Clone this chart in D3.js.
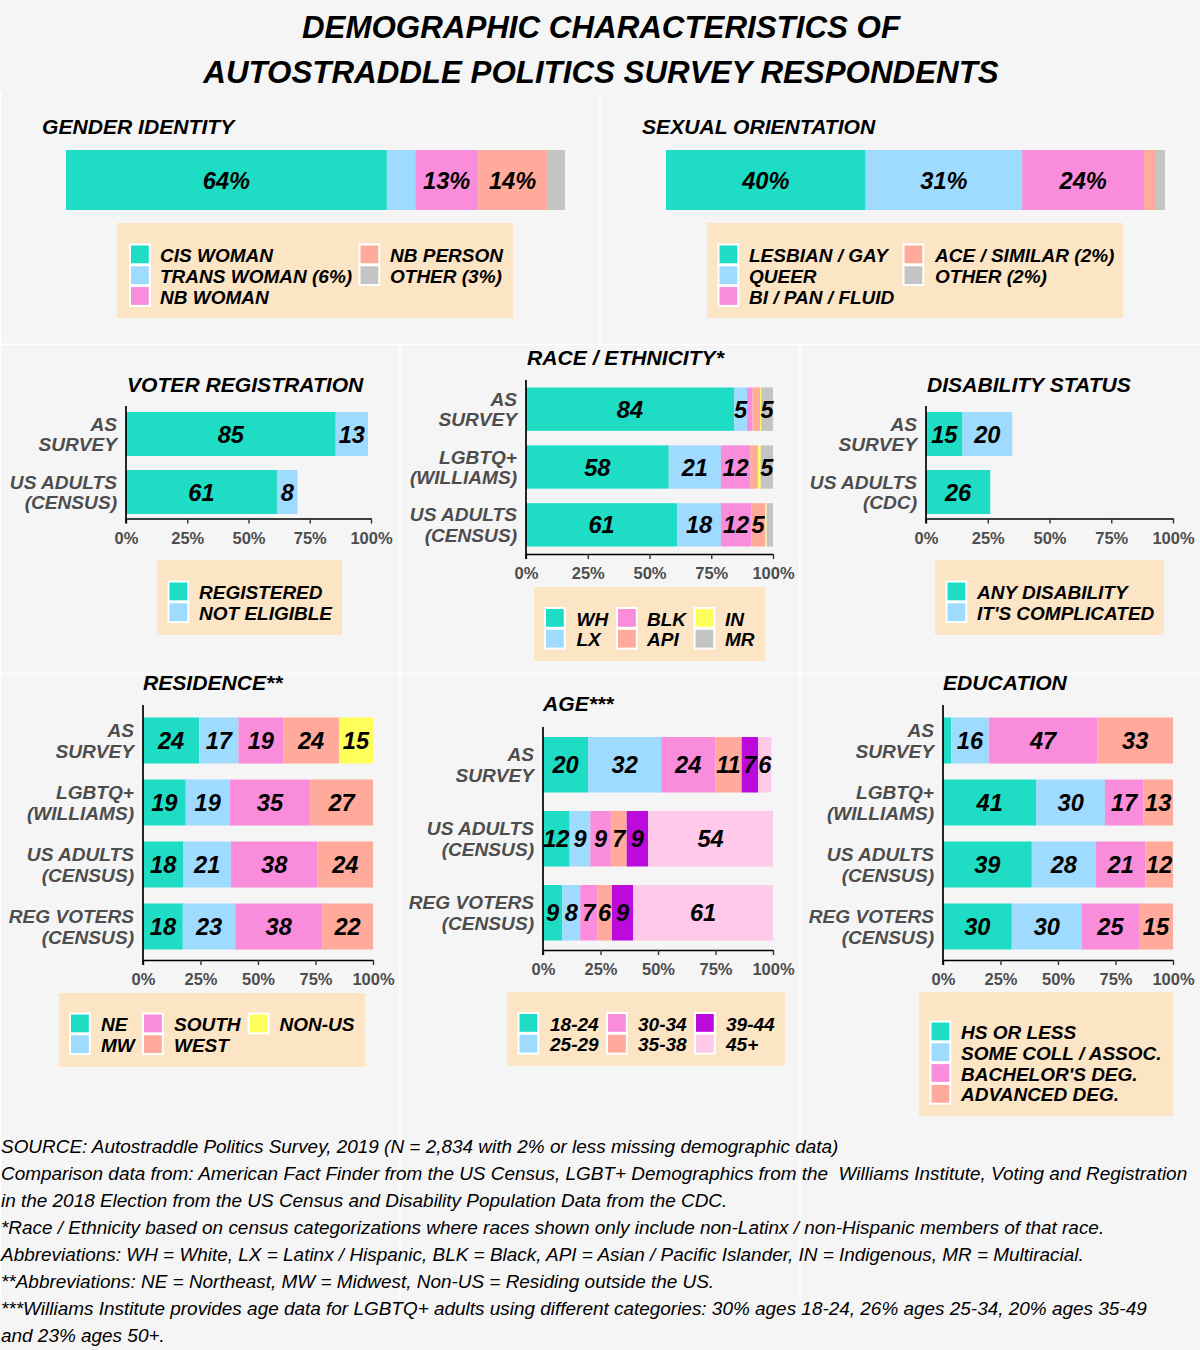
<!DOCTYPE html>
<html>
<head>
<meta charset="utf-8">
<script src="https://cdn.jsdelivr.net/npm/d3@7"></script>
<style>
  html, body { margin: 0; padding: 0; background: #f5f5f5; }
  svg { display: block; font-family: "Liberation Sans", Arial, sans-serif; }
</style>
</head>
<body>
<svg id="chart" width="1200" height="1350"></svg>
<script>
// Colours
var TEAL = "#1eddc4", BLUE = "#9fdbff", PINK = "#f98ddc", SALMON = "#ffaa9a",
    GRAY = "#c4c4c4", YELLOW = "#ffff5c", PURPLE = "#bc0add", LTPINK = "#ffc9ea";

// Gender identity
var genderKeys = ["CIS WOMAN", "TRANS WOMAN (6%)", "NB WOMAN", "NB PERSON", "OTHER (3%)"];
var genderValues = [[64.3, 5.7, 12.6, 13.8, 3.6]];
var genderLabels = [["64%", "", "13%", "14%", ""]];

// Sexual orientation
var orientKeys = ["LESBIAN / GAY", "QUEER", "BI / PAN / FLUID", "ACE / SIMILAR (2%)", "OTHER (2%)"];
var orientValues = [[40, 31.4, 24.4, 2.4, 1.8]];
var orientLabels = [["40%", "31%", "24%", "", ""]];

// Voter registration
var voterCats = [["AS", "SURVEY"], ["US ADULTS", "(CENSUS)"]];
var voterKeys = ["REGISTERED", "NOT ELIGIBLE"];
var voterValues = [[85.6, 13.2], [61.6, 8.4]];
var voterLabels = [["85", "13"], ["61", "8"]];

// Race / ethnicity
var raceCats = [["AS", "SURVEY"], ["LGBTQ+", "(WILLIAMS)"], ["US ADULTS", "(CENSUS)"]];
var raceKeys = ["WH", "LX", "BLK", "API", "IN", "MR"];
var raceValues = [
  [84.2, 5.3, 2.2, 3.1, 0.4, 4.8],
  [57.8, 21.1, 11.9, 3.1, 1.1, 5],
  [61.2, 17.7, 12.3, 5.6, 0.6, 2.6]
];
var raceLabels = [
  ["84", "5", "", "", "", "5"],
  ["58", "21", "12", "", "", "5"],
  ["61", "18", "12", "5", "", ""]
];

// Disability status
var disabilityCats = [["AS", "SURVEY"], ["US ADULTS", "(CDC)"]];
var disabilityKeys = ["ANY DISABILITY", "IT'S COMPLICATED"];
var disabilityValues = [[14.8, 20.1], [26, 0]];
var disabilityLabels = [["15", "20"], ["26", ""]];

// Residence
var residenceCats = [["AS", "SURVEY"], ["LGBTQ+", "(WILLIAMS)"], ["US ADULTS", "(CENSUS)"], ["REG VOTERS", "(CENSUS)"]];
var residenceKeys = ["NE", "MW", "SOUTH", "WEST", "NON-US"];
var residenceValues = [
  [24.4, 17.1, 19.5, 24.2, 14.8],
  [18.6, 19.1, 35, 27.3, 0],
  [17.6, 20.6, 37.7, 24.1, 0],
  [17.3, 22.8, 37.8, 22.1, 0]
];
var residenceLabels = [
  ["24", "17", "19", "24", "15"],
  ["19", "19", "35", "27", ""],
  ["18", "21", "38", "24", ""],
  ["18", "23", "38", "22", ""]
];

// Age
var ageCats = [["AS", "SURVEY"], ["US ADULTS", "(CENSUS)"], ["REG VOTERS", "(CENSUS)"]];
var ageKeys = ["18-24", "25-29", "30-34", "35-38", "39-44", "45+"];
var ageValues = [
  [19.6, 31.8, 23.5, 11.5, 7.1, 5.8],
  [11.6, 9, 8.9, 6.9, 9.3, 54.3],
  [8.4, 7.8, 7.4, 6.4, 9.2, 60.8]
];
var ageLabels = [
  ["20", "32", "24", "11", "7", "6"],
  ["12", "9", "9", "7", "9", "54"],
  ["9", "8", "7", "6", "9", "61"]
];

// Education
var eduCats = [["AS", "SURVEY"], ["LGBTQ+", "(WILLIAMS)"], ["US ADULTS", "(CENSUS)"], ["REG VOTERS", "(CENSUS)"]];
var eduKeys = ["HS OR LESS", "SOME COLL / ASSOC.", "BACHELOR'S DEG.", "ADVANCED DEG."];
var eduValues = [
  [3.5, 16.4, 47.2, 32.9],
  [40.6, 29.8, 16.7, 12.9],
  [38.6, 27.9, 21.5, 12],
  [29.9, 30.5, 24.8, 14.8]
];
var eduLabels = [
  ["", "16", "47", "33"],
  ["41", "30", "17", "13"],
  ["39", "28", "21", "12"],
  ["30", "30", "25", "15"]
];

var titleLines = ["DEMOGRAPHIC CHARACTERISTICS OF", "AUTOSTRADDLE POLITICS SURVEY RESPONDENTS"];
var footerLines = [
  "SOURCE: Autostraddle Politics Survey, 2019 (N = 2,834 with 2% or less missing demographic data)",
  "Comparison data from: American Fact Finder from the US Census, LGBT+ Demographics from the  Williams Institute, Voting and Registration",
  "in the 2018 Election from the US Census and Disability Population Data from the CDC.",
  "*Race / Ethnicity based on census categorizations where races shown only include non-Latinx / non-Hispanic members of that race.",
  "Abbreviations: WH = White, LX = Latinx / Hispanic, BLK = Black, API = Asian / Pacific Islander, IN = Indigenous, MR = Multiracial.",
  "**Abbreviations: NE = Northeast, MW = Midwest, Non-US = Residing outside the US.",
  "***Williams Institute provides age data for LGBTQ+ adults using different categories: 30% ages 18-24, 26% ages 25-34, 20% ages 35-49",
  "and 23% ages 50+."
];

var svg = d3.select("#chart");
svg.append("rect").attr("width", 1200).attr("height", 1350).attr("fill", "#f5f5f5");

// White seams between the panels
var seams = [[0.5, 92, 0.5, 1300], [600, 92, 600, 344], [400, 344, 400, 1300], [800, 344, 800, 1300],
             [0, 344.5, 1200, 344.5], [0, 673.5, 1200, 673.5]];
svg.selectAll("line.seam").data(seams).join("line").attr("class", "seam")
  .attr("x1", d => d[0]).attr("y1", d => d[1]).attr("x2", d => d[2]).attr("y2", d => d[3])
  .attr("stroke", "#fff").attr("stroke-width", 1.6);

svg.selectAll("text.title").data(titleLines).join("text").attr("class", "title")
  .attr("x", 601).attr("y", (d, i) => 38 + i * 45)
  .attr("text-anchor", "middle").attr("font-size", 31.3)
  .attr("font-weight", "bold").attr("font-style", "italic").text(d => d);

svg.selectAll("text.foot").data(footerLines).join("text").attr("class", "foot")
  .attr("x", 1).attr("y", (d, i) => 1153 + i * 27)
  .attr("font-size", 18.95).attr("font-style", "italic").attr("fill", "#000")
  .style("white-space", "pre").text(d => d);

function drawLegend(c, keys, colors) {
  var g = svg.append("g");
  g.append("rect").attr("x", c.box[0]).attr("y", c.box[1])
    .attr("width", c.box[2] - c.box[0]).attr("height", c.box[3] - c.box[1]).attr("fill", "#fbe5c4");
  var start = 0;
  c.cols.forEach(col => {
    var items = d3.range(start, start + col.n);
    start += col.n;
    var row = g.selectAll(null).data(items).join("g")
      .attr("transform", (d, i) => "translate(" + col.key + "," + (c.top + i * 20.8) + ")");
    row.append("rect").attr("x", 0.5).attr("y", 0.5).attr("width", 19.8).attr("height", 19.8)
      .attr("fill", d => colors[d]).attr("stroke", "#fff").attr("stroke-width", 2);
    row.append("text").attr("x", col.text - col.key).attr("y", 18)
      .attr("font-size", 19).attr("font-weight", "bold").attr("font-style", "italic")
      .text(d => keys[d]);
  });
}

function drawTitle(c, title) {
  svg.append("text").attr("x", c[0]).attr("y", c[1]).attr("font-size", 21.1)
    .attr("font-weight", "bold").attr("font-style", "italic").text(title);
}

function drawBars(g, x, y, rows, labels, colors, cats) {
  rows.forEach((vals, r) => {
    var cum = d3.cumsum(vals);
    var segs = vals.map((v, i) => ({ v: v, x0: cum[i] - v, x1: cum[i], i: i, label: labels[r][i] }));
    var key = cats[r];
    g.selectAll(null).data(segs).join("rect")
      .attr("x", d => x(d.x0)).attr("width", d => x(d.x1) - x(d.x0))
      .attr("y", y(key)).attr("height", y.bandwidth())
      .attr("fill", d => colors[d.i]);
    g.selectAll(null).data(segs.filter(d => d.label)).join("text")
      .attr("x", d => x((d.x0 + d.x1) / 2)).attr("y", y(key) + y.bandwidth() / 2 + 8.5)
      .attr("text-anchor", "middle").attr("font-size", 23.6)
      .attr("font-weight", "bold").attr("font-style", "italic").text(d => d.label);
  });
}

// Single stacked strip with no axes
function drawStrip(p, values, labels, colors) {
  var x = d3.scaleLinear().domain([0, 100]).range(p.x);
  var y = d3.scaleBand().domain(["all"]).range(p.y);
  drawBars(svg.append("g"), x, y, values, labels, colors, ["all"]);
}

// Stacked bars with category labels and a percent axis
function drawChart(p, cats, values, labels, colors) {
  var names = cats.map(d => d.join(" "));
  var x = d3.scaleLinear().domain([0, 100]).range(p.x);
  var gap = p.gap;
  var range = [p.barTop - gap / 2, p.barBottom + gap / 2];
  var step = (range[1] - range[0]) / names.length;
  var y = d3.scaleBand().domain(names).range(range)
    .paddingInner(gap / step).paddingOuter(gap / step / 2);
  var g = svg.append("g");
  drawBars(g, x, y, values, labels, colors, names);

  var xAxis = d3.axisBottom(x).tickValues([0, 25, 50, 75, 100]).tickFormat(d => d + "%").tickSize(5).tickSizeOuter(0);
  var ax = g.append("g").attr("transform", "translate(0," + p.axisY + ")").call(xAxis);
  ax.select(".domain").attr("stroke", "#000").attr("stroke-width", 1.7);
  ax.selectAll(".tick line").attr("stroke", "#333").attr("stroke-width", 1.4);
  ax.selectAll(".tick text").attr("font-family", "Liberation Sans").attr("font-size", 16.5)
    .attr("font-weight", "bold").attr("fill", "#4d4d4d").attr("y", 13.5);

  g.append("line").attr("x1", p.x[0]).attr("x2", p.x[0]).attr("y1", p.axisTop).attr("y2", p.axisY + 5)
    .attr("stroke", "#000").attr("stroke-width", 1.7);

  var lab = g.selectAll(null).data(cats).join("text")
    .attr("text-anchor", "end").attr("font-size", 19.1).attr("font-weight", "bold")
    .attr("font-style", "italic").attr("fill", "#4d4d4d");
  lab.selectAll("tspan").data((d, i) => d.map(t => ({ t: t, c: y(names[i]) + y.bandwidth() / 2 })))
    .join("tspan").attr("x", p.x[0] - 9)
    .attr("y", (d, i) => d.c + (i === 0 ? -3.5 : 17)).text(d => d.t);
}

var c5 = [TEAL, BLUE, PINK, SALMON, GRAY];
var c6 = [TEAL, BLUE, PINK, SALMON, YELLOW, GRAY];
var cRes = [TEAL, BLUE, PINK, SALMON, YELLOW];
var cAge = [TEAL, BLUE, PINK, SALMON, PURPLE, LTPINK];

// Gender identity
drawTitle([42, 134], "GENDER IDENTITY");
drawStrip({ x: [66, 565], y: [150, 210] }, genderValues, genderLabels, c5);
drawLegend({ box: [117, 223, 513, 318], top: 244, cols: [{ n: 3, key: 129.5, text: 160 }, { n: 2, key: 359, text: 390 }] }, genderKeys, c5);

// Sexual orientation
drawTitle([642, 134], "SEXUAL ORIENTATION");
drawStrip({ x: [666, 1165], y: [150, 210] }, orientValues, orientLabels, c5);
drawLegend({ box: [707, 223, 1123, 318], top: 244, cols: [{ n: 3, key: 718, text: 749 }, { n: 2, key: 903, text: 935 }] }, orientKeys, c5);

// Voter registration
drawTitle([127, 392], "VOTER REGISTRATION");
drawChart({ x: [126, 371], barTop: 412, barBottom: 514, gap: 14, axisY: 518.5, axisTop: 406 }, voterCats, voterValues, voterLabels, [TEAL, BLUE]);
drawLegend({ box: [157, 560, 342, 635], top: 581, cols: [{ n: 2, key: 168, text: 199 }] }, voterKeys, [TEAL, BLUE]);

// Race / ethnicity
drawTitle([527, 365], "RACE / ETHNICITY*");
drawChart({ x: [526, 773], barTop: 387.5, barBottom: 546.5, gap: 14.5, axisY: 554, axisTop: 380 }, raceCats, raceValues, raceLabels, c6);
drawLegend({ box: [534, 587, 765, 661], top: 607.5, cols: [{ n: 2, key: 544.5, text: 576.5 }, { n: 2, key: 616.5, text: 647 }, { n: 2, key: 694, text: 725 }] }, raceKeys, c6);

// Disability status
drawTitle([927, 392], "DISABILITY STATUS");
drawChart({ x: [926, 1173], barTop: 412, barBottom: 514, gap: 14, axisY: 518.5, axisTop: 406 }, disabilityCats, disabilityValues, disabilityLabels, [TEAL, BLUE]);
drawLegend({ box: [935, 560, 1164, 635], top: 581, cols: [{ n: 2, key: 946, text: 977 }] }, disabilityKeys, [TEAL, BLUE]);

// Residence
drawTitle([143, 690], "RESIDENCE**");
drawChart({ x: [143, 373], barTop: 717.5, barBottom: 949.5, gap: 16, axisY: 960, axisTop: 705 }, residenceCats, residenceValues, residenceLabels, cRes);
drawLegend({ box: [59, 993, 365, 1067], top: 1013, cols: [{ n: 2, key: 69.5, text: 101 }, { n: 2, key: 142.5, text: 174 }, { n: 1, key: 248, text: 279.5 }] }, residenceKeys, cRes);

// Age
drawTitle([543, 711], "AGE***");
drawChart({ x: [543, 773], barTop: 737, barBottom: 940.5, gap: 18.5, axisY: 950, axisTop: 727 }, ageCats, ageValues, ageLabels, cAge);
drawLegend({ box: [507, 992, 785, 1066], top: 1012.5, cols: [{ n: 2, key: 518, text: 550 }, { n: 2, key: 606.5, text: 638 }, { n: 2, key: 694.5, text: 726 }] }, ageKeys, cAge);

// Education
drawTitle([943, 690], "EDUCATION");
drawChart({ x: [943, 1173], barTop: 717.5, barBottom: 949.5, gap: 16, axisY: 960, axisTop: 705 }, eduCats, eduValues, eduLabels, [TEAL, BLUE, PINK, SALMON]);
drawLegend({ box: [919, 992, 1173, 1116], top: 1021, cols: [{ n: 4, key: 930, text: 961 }] }, eduKeys, [TEAL, BLUE, PINK, SALMON]);
</script>
</body>
</html>
